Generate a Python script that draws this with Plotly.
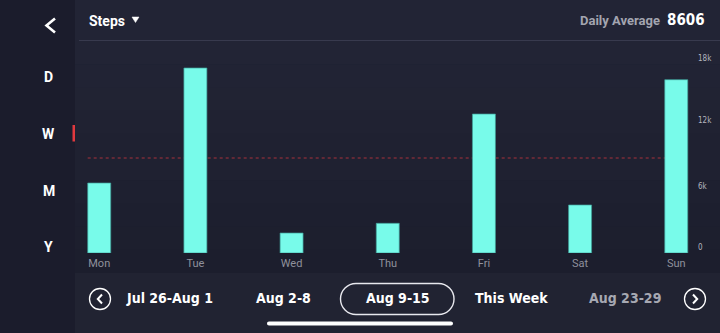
import plotly.graph_objects as go

# Weekly step counts
DAYS = ["Mon", "Tue", "Wed", "Thu", "Fri", "Sat", "Sun"]
STEPS = [6340, 16760, 1810, 2690, 12590, 4350, 15700]
DAILY_AVG = 8606

# Right axis ticks
TICK_VALS = [0, 6000, 12000, 18000]
TICK_TEXT = ["0", "6k", "12k", "18k"]

# Sidebar range selector and week navigator
RANGE_KEYS = ["D", "W", "M", "Y"]
WEEKS = ["Jul 26-Aug 1", "Aug 2-8", "Aug 9-15", "This Week", "Aug 23-29"]
SELECTED_WEEK = "Aug 9-15"

W, H = 720, 333
SANS = "Roboto, Liberation Sans, sans-serif"
NARROW = "Liberation Sans Narrow, DejaVu Sans Condensed, sans-serif"

BAR_COLOR = "#78fbea"
SIDEBAR = "#1b1c2c"


def px(x):
    return x / W


def py(y):
    return 1 - y / H


def rect(x0, y0, x1, y1, color, layer="below"):
    return dict(type="rect", xref="paper", yref="paper",
                x0=px(x0), x1=px(x1), y0=py(y1), y1=py(y0),
                fillcolor=color, line=dict(width=0), layer=layer)


def path(points, color, width, closed=False, fill=None, layer="above"):
    d = "M " + " L ".join(f"{px(x):.5f},{py(y):.5f}" for x, y in points)
    if closed:
        d += " Z"
    return dict(type="path", xref="paper", yref="paper", path=d,
                line=dict(color=color, width=width),
                fillcolor=fill if fill else "rgba(0,0,0,0)", layer=layer)


def pill(x0, y0, x1, y1, color, width, fill="rgba(0,0,0,0)"):
    r = (y1 - y0) / 2
    k = 0.5523 * r

    def p(x, y):
        return f"{px(x):.5f},{py(y):.5f}"

    d = (f"M {p(x0 + r, y0)} L {p(x1 - r, y0)} "
         f"C {p(x1 - r + k, y0)} {p(x1, y0 + r - k)} {p(x1, y0 + r)} "
         f"C {p(x1, y0 + r + k)} {p(x1 - r + k, y1)} {p(x1 - r, y1)} "
         f"L {p(x0 + r, y1)} "
         f"C {p(x0 + r - k, y1)} {p(x0, y0 + r + k)} {p(x0, y0 + r)} "
         f"C {p(x0, y0 + r - k)} {p(x0 + r - k, y0)} {p(x0 + r, y0)} Z")
    return dict(type="path", xref="paper", yref="paper", path=d,
                line=dict(color=color, width=width),
                fillcolor=fill, layer="above")


def mix(c0, c1, t):
    a = [int(c0[i:i + 2], 16) for i in (1, 3, 5)]
    b = [int(c1[i:i + 2], 16) for i in (1, 3, 5)]
    return "#" + "".join(f"{round(a[i] + (b[i] - a[i]) * t):02x}" for i in range(3))


shapes = []
# header strip and chart panel with a soft vertical fade
shapes.append(rect(75, 0, W, 41, "#222435"))
n_bands = 10
top, bottom = 41, 273
for i in range(n_bands):
    y0 = top + (bottom - top) * i / n_bands
    y1 = top + (bottom - top) * (i + 1) / n_bands + 0.5
    shapes.append(rect(75, y0, W, y1, mix("#222435", "#1c1e2d", i / (n_bands - 1))))
shapes.append(rect(75, 273, W, H, "#212332"))
# separator under the header
shapes.append(dict(type="line", xref="paper", yref="paper",
                   x0=px(79), x1=1, y0=py(40.5), y1=py(40.5),
                   line=dict(color="#383a4e", width=1.2), layer="below"))
# average line behind the bars
shapes.append(dict(type="line", xref="x", yref="y",
                   x0=-0.12, x1=6.12, y0=DAILY_AVG, y1=DAILY_AVG,
                   line=dict(color="#7a2c38", width=1.6, dash="3px,3px"),
                   layer="below"))
# back chevron
shapes.append(path([(55, 18.5), (46.5, 25.5), (55, 32.5)], "white", 2.6))
# dropdown triangle
shapes.append(path([(132, 17), (139, 17), (135.5, 22.5)], "white", 0.5,
                   closed=True, fill="white"))
# selected range marker
shapes.append(rect(72.5, 125, 75, 141.5, "#e0393e", layer="above"))
# week navigation buttons
for cx, sign in ((100, 1), (695, -1)):
    shapes.append(dict(type="circle", xref="paper", yref="paper",
                       x0=px(cx - 10.5), x1=px(cx + 10.5),
                       y0=py(309.5), y1=py(288.5),
                       line=dict(color="white", width=1.3), layer="above"))
    shapes.append(path([(cx + 2 * sign, 294.5), (cx - 2.2 * sign, 299),
                        (cx + 2 * sign, 303.5)], "white", 2))
# selected week outline
shapes.append(pill(340.5, 283.5, 454, 314.5, "#e8e8ee", 1.4))
# home indicator
shapes.append(pill(267, 321.5, 453, 325.5, "white", 0, fill="white"))

annotations = []


def text(x, y, s, size, color, family=SANS, anchor="center", weight="normal"):
    annotations.append(dict(xref="paper", yref="paper", x=px(x), y=py(y),
                            text=s, showarrow=False, xanchor=anchor,
                            yanchor="middle",
                            font=dict(size=size, color=color, family=family,
                                      weight=weight)))


text(87, 20.5, "Steps", 14, "white", anchor="left", weight="bold")
text(662, 20.5, "Daily Average", 13, "#a3a5b0", anchor="right", weight="bold")
text(665, 20, f"{DAILY_AVG}", 15, "white", family=NARROW, anchor="left",
     weight="bold")

for key, y in zip(RANGE_KEYS, (76.5, 133.5, 190.5, 247)):
    text(48.5, y, key, 14, "white", weight="bold")

week_x = [169.5, 283, 397.5, 511, 624.5]
for label, x in zip(WEEKS, week_x):
    color = "#a6a8b2" if label == WEEKS[-1] else "white"
    text(x, 297.5, label, 14, color, family=NARROW, weight="bold")

# right-hand value labels, end labels tucked inside the plot height
for i, (val, lab) in enumerate(zip(TICK_VALS, TICK_TEXT)):
    nudge = 6 if i == 0 else (-4 if i == len(TICK_VALS) - 1 else 0)
    annotations.append(dict(xref="paper", yref="y", x=px(696), y=val,
                            yshift=nudge, text=lab, showarrow=False,
                            xanchor="left", yanchor="middle",
                            font=dict(size=8, color="#b3b5bf", family=NARROW)))

fig = go.Figure(go.Bar(
    x=list(range(len(DAYS))), y=STEPS, width=0.239,
    marker=dict(color=BAR_COLOR, line=dict(color="#3f9f98", width=0.7)),
    hoverinfo="skip",
))

fig.update_layout(
    width=W, height=H,
    autosize=False,
    margin=dict(l=0, r=0, t=0, b=0, pad=0),
    paper_bgcolor=SIDEBAR,
    plot_bgcolor="rgba(0,0,0,0)",
    showlegend=False,
    shapes=shapes,
    annotations=annotations,
    xaxis=dict(domain=[px(80), px(695.5)], range=[-0.2, 6.2],
               tickvals=list(range(len(DAYS))), ticktext=DAYS,
               tickfont=dict(size=11, color="#8f919c", family=SANS),
               ticklabelstandoff=2,
               showgrid=False, zeroline=False, showline=False, ticks="",
               automargin=False, fixedrange=True),
    yaxis=dict(domain=[py(253), py(54.3)], range=[0, 18000], side="right",
               showticklabels=False,
               showgrid=False, zeroline=False, showline=False, ticks="",
               automargin=False, fixedrange=True),
)

fig.write_html("out.html", config={"displayModeBar": False})
